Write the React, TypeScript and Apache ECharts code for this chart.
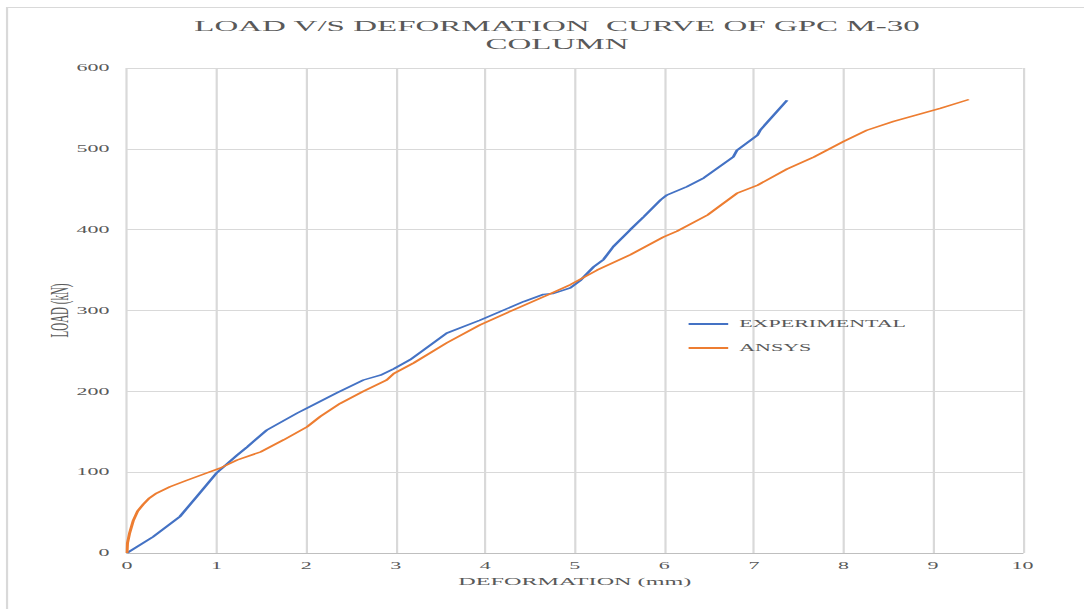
import React, { useEffect, useRef } from "react";
import * as echarts from "echarts";

const S = 2.2;
const W = 1084 / S;
const H = 609;

const titleLines = ["LOAD V/S DEFORMATION  CURVE OF GPC M-30", "COLUMN"];
const xName = "DEFORMATION (mm)";
const yName = "LOAD (kN)";
const seriesNames = ["EXPERIMENTAL", "ANSYS"];

const expDef = [0, 0.29, 0.59, 0.78, 1.0, 1.23, 1.34, 1.56, 1.9, 2.04, 2.34, 2.64, 2.83, 2.98, 3.16, 3.31, 3.57, 3.94, 4.13, 4.43, 4.65, 4.76, 4.95, 5.06, 5.21, 5.32, 5.43, 5.62, 5.77, 5.96, 6.03, 6.25, 6.44, 6.77, 6.81, 7.04, 7.07, 7.37];
const expLoad = [0, 20, 45, 70, 99, 121, 131, 152, 173, 181, 198, 214, 220, 228, 239, 251, 272, 288, 297, 311, 320, 321, 328, 337, 354, 363, 379, 400, 416, 437, 443, 453, 464, 490, 498, 517, 523, 560];

const ansDef = [0, 0.005, 0.03, 0.07, 0.12, 0.18, 0.25, 0.33, 0.48, 0.67, 0.89, 1.04, 1.23, 1.49, 1.75, 2.01, 2.16, 2.38, 2.64, 2.9, 2.98, 3.2, 3.57, 3.94, 4.32, 4.69, 4.95, 5.25, 5.62, 5.99, 6.14, 6.48, 6.81, 7.04, 7.37, 7.67, 8.0, 8.26, 8.56, 8.82, 9.08, 9.4];
const ansLoad = [0, 12, 25, 40, 52, 60, 68, 74, 82, 90, 99, 105, 115, 125, 140, 156, 169, 185, 200, 214, 222, 235, 260, 282, 301, 319, 332, 350, 369, 391, 398, 418, 445, 455, 475, 490, 509, 523, 534, 542, 550, 561];

const FONT = "'Liberation Serif', 'Times New Roman', serif";

export default function App() {
  const ref = useRef<HTMLDivElement>(null);
  useEffect(() => {
    if (!ref.current) return;
    const chart = echarts.init(ref.current, undefined, { renderer: "svg" });
    const pair = (xs: number[], ys: number[]) => xs.map((x, i) => [x, ys[i]]);
    chart.setOption({
      animation: false,
      backgroundColor: "#ffffff",
      title: {
        text: titleLines.join("\n"),
        left: 546 / S,
        top: 12,
        textAlign: "center",
        textStyle: {
          fontFamily: FONT,
          fontSize: 15,
          fontWeight: "normal",
          color: "#595959",
          lineHeight: 18,
        },
      },
      graphic: [
        {
          type: "rect",
          shape: { x: 3.2, y: 7.5, width: 1000, height: 1000 },
          style: { fill: "none", stroke: "#d9d9d9", lineWidth: 1 },
          silent: true,
        },
      ],
      legend: {
        orient: "vertical",
        left: 308,
        top: 314,
        itemWidth: 18,
        itemHeight: 2,
        itemGap: 14,
        icon: "rect",
        data: seriesNames,
        textStyle: { fontFamily: FONT, fontSize: 10, color: "#595959" },
      },
      grid: { left: 127 / S, right: W - 1022 / S, top: 68, bottom: H - 553 },
      xAxis: {
        type: "value",
        min: 0,
        max: 10,
        interval: 1,
        name: xName,
        nameLocation: "middle",
        nameGap: 19,
        nameTextStyle: { fontFamily: FONT, fontSize: 11, color: "#595959" },
        axisLine: { show: true, lineStyle: { color: "#bfbfbf", width: 1 } },
        axisTick: { show: false },
        axisLabel: { fontFamily: FONT, fontSize: 10, color: "#595959", margin: 8 },
        splitLine: { show: true, lineStyle: { color: "#d9d9d9", width: 1 } },
      },
      yAxis: {
        type: "value",
        min: 0,
        max: 600,
        interval: 100,
        name: yName,
        nameLocation: "middle",
        nameGap: 25,
        nameMoveOverlap: false,
        nameTextStyle: { fontFamily: FONT, fontSize: 11, color: "#595959" },
        axisLine: { show: false },
        axisTick: { show: false },
        axisLabel: { fontFamily: FONT, fontSize: 10, color: "#595959", margin: 8 },
        splitLine: { show: true, lineStyle: { color: "#d9d9d9", width: 1 } },
      },
      series: [
        {
          name: seriesNames[0],
          type: "line",
          data: pair(expDef, expLoad),
          showSymbol: false,
          symbol: "none",
          lineStyle: { color: "#4472c4", width: 1.4 },
          itemStyle: { color: "#4472c4" },
        },
        {
          name: seriesNames[1],
          type: "line",
          data: pair(ansDef, ansLoad),
          showSymbol: false,
          symbol: "none",
          lineStyle: { color: "#ed7d31", width: 1.4 },
          itemStyle: { color: "#ed7d31" },
        },
      ],
    });
    return () => chart.dispose();
  }, []);
  return (
    <div
      style={{
        position: "fixed",
        left: 0,
        top: 0,
        width: 1084,
        height: 609,
        overflow: "hidden",
        background: "#ffffff",
      }}
    >
      <div
        ref={ref}
        style={{
          width: W,
          height: H,
          transform: `scaleX(${S})`,
          transformOrigin: "0 0",
        }}
      />
    </div>
  );
}
